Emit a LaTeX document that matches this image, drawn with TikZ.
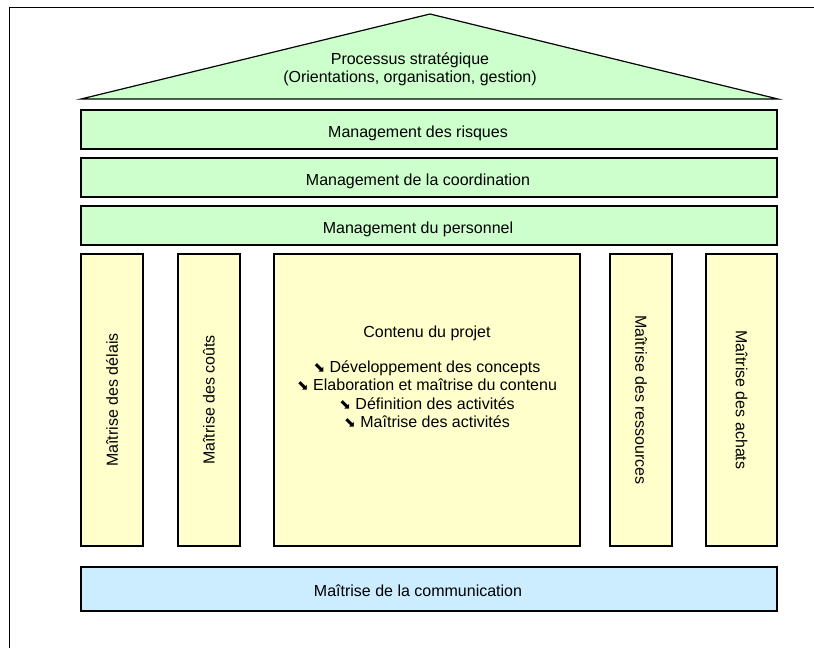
\documentclass[tikz,border=0pt]{standalone}
\usepackage{fontspec}
\setmainfont{Liberation Sans}
\newfontfamily\symfont{DejaVu Sans}
\definecolor{toitvert}{HTML}{CCFFCC}
\definecolor{pilierjaune}{HTML}{FFFFCC}
\definecolor{baseblue}{HTML}{CCECFF}
\newcommand{\puce}{{\symfont\fontsize{14}{14}\selectfont ⬊}}

\begin{document}
\begin{tikzpicture}[x=1pt, y=-1pt, line width=1.2pt,
    every node/.style={font=\fontsize{16}{18.5}\selectfont},
    bande/.style={draw=black, fill=toitvert, minimum width=696pt, minimum height=39pt, inner sep=0pt},
    bandtexte/.style={anchor=base, inner sep=0pt},
    pilier/.style={draw=black, fill=pilierjaune, minimum width=292pt, inner sep=0pt}]
        \useasboundingbox (0,0) rectangle (814,648);

        % Frame
        \draw [line width=1pt] (9,648) -- (9,7) -- (814,7);

        % Roof
        \filldraw [fill=toitvert] (81,99) -- (430,14) -- (778,99) -- cycle;
        \node [align=center] (toit) at (410,69.5) {Processus stratégique\\(Orientations, organisation, gestion)};

        % Management layers
        \node [bande] (risques) at (429,129.5) {};
        \node [bande] (coordination) at (429,177.5) {};
        \node [bande] (personnel) at (429,225.5) {};
        \node [bandtexte] (risquestexte) at ([shift={(-11,7.5)}]risques.center) {Management des risques};
        \node [bandtexte] (coordtexte) at ([shift={(-11,7.5)}]coordination.center) {Management de la coordination};
        \node [bandtexte] (personneltexte) at ([shift={(-11,7.5)}]personnel.center) {Management du personnel};

        % Pillars
        \node [pilier, rotate=90, minimum height=62pt] (delais) at (112,400) {Maîtrise des délais};
        \node [pilier, rotate=90, minimum height=62pt] (couts) at (209,400) {Maîtrise des coûts};
        \node [pilier, minimum width=306pt, minimum height=292pt] (contenu) at (427,400) {};
        \node [align=center] (contenutexte) at ([yshift=23pt]contenu.center) {Contenu du projet\\[16pt]
            \puce\ Développement des concepts\\
            \puce\ Elaboration et maîtrise du contenu\\
            \puce\ Définition des activités\\
            \puce\ Maîtrise des activités};
        \node [pilier, rotate=-90, minimum height=62pt] (ressources) at (641,400) {Maîtrise des ressources};
        \node [pilier, rotate=-90, minimum height=71pt] (achats) at (741.5,400) {Maîtrise des achats};

        % Base
        \node [bande, fill=baseblue, minimum height=44pt] (communication) at (429,589) {};
        \node [bandtexte] (communicationtexte) at ([shift={(-11,7.5)}]communication.center) {Maîtrise de la communication};
\end{tikzpicture}
\end{document}
